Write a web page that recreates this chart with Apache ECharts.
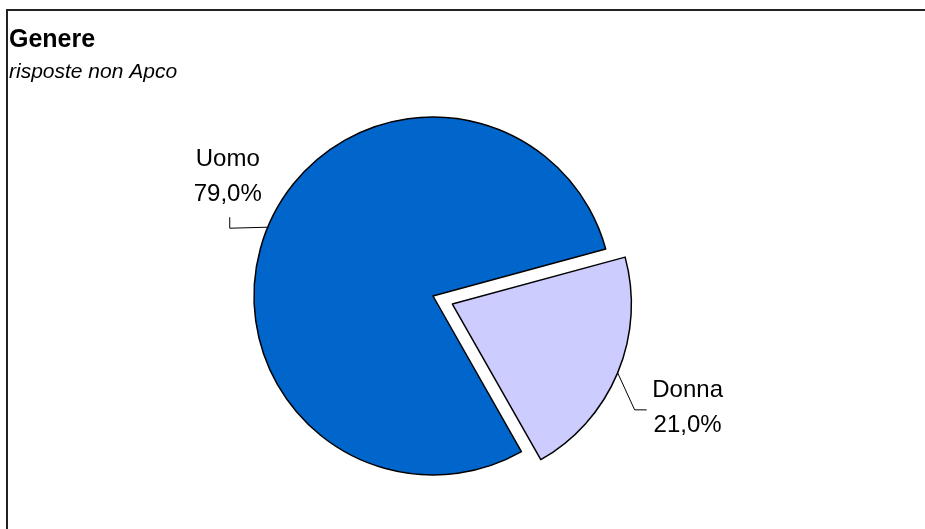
<!DOCTYPE html>
<html>
<head>
<meta charset="utf-8">
<script src="https://cdn.jsdelivr.net/npm/echarts@6/dist/echarts.min.js"></script>
<style>
html,body{margin:0;padding:0;background:#fff;}
#chart{width:925px;height:529px;}
</style>
</head>
<body>
<div id="chart"></div>
<script>
const categories = ['Uomo', 'Donna'];
const values = [79.0, 21.0];
const colors = ['#0066CC', '#CCCCFF'];
const exploded = [false, true];
const titleText = 'Genere';
const subtitleText = 'risposte non Apco';

const chart = echarts.init(document.getElementById('chart'), null, {renderer: 'canvas'});
const fmt = v => v.toFixed(1).replace('.', ',') + '%';

const CX = 433, CY = 296, R = 179, START = 299.6, EXPLODE = 21;
const total = values.reduce((a, b) => a + b, 0);

function midAngle(idx) {
  let acc = 0;
  for (let i = 0; i < idx; i++) acc += values[i];
  const a0 = START - acc / total * 360;
  const a1 = a0 - values[idx] / total * 360;
  return (a0 + a1) / 2 * Math.PI / 180;
}

// label offsets relative to the leader line anchor on the slice edge
const labelGeom = {
  'Uomo':  {line: [[-38, 1], [-38, -10]], center: [-40, -50]},
  'Donna': {line: [[17, 37], [29, 37]], center: [70, 35]}
};

function makeSeries(showIdx, center) {
  return {
    type: 'pie',
    center: center,
    radius: R,
    startAngle: START,
    clockwise: true,
    silent: true,
    emphasis: {disabled: true},
    data: categories.map((c, i) => {
      const vis = showIdx.includes(i);
      return {
        name: c,
        value: values[i],
        itemStyle: vis ? {color: colors[i], borderColor: '#000', borderWidth: 1.5}
                       : {color: 'rgba(0,0,0,0)', borderWidth: 0},
        label: {show: vis},
        labelLine: {show: vis}
      };
    }),
    label: {
      position: 'outside',
      formatter: p => p.name + '\n' + fmt(p.value),
      fontFamily: 'Liberation Sans',
      fontSize: 24,
      lineHeight: 35,
      color: '#000',
      align: 'center'
    },
    labelLine: {length: 10, length2: 10, lineStyle: {color: '#000', width: 1}},
    labelLayout: p => {
      const g = labelGeom[categories[p.dataIndex]];
      const pts = p.labelLinePoints;
      if (!g || !pts) return {};
      const a = pts[0];
      return {
        x: a[0] + g.center[0],
        y: a[1] + g.center[1],
        align: 'center',
        verticalAlign: 'middle',
        labelLinePoints: [a, [a[0] + g.line[0][0], a[1] + g.line[0][1]], [a[0] + g.line[1][0], a[1] + g.line[1][1]]]
      };
    }
  };
}

const normalIdx = categories.map((c, i) => i).filter(i => !exploded[i]);
const series = [makeSeries(normalIdx, [CX, CY])];
categories.forEach((c, i) => {
  if (exploded[i]) {
    const m = midAngle(i);
    series.push(makeSeries([i], [CX + EXPLODE * Math.cos(m), CY - EXPLODE * Math.sin(m)]));
  }
});

chart.setOption({
  animation: false,
  backgroundColor: '#fff',
  graphic: [{
    type: 'polyline',
    shape: {points: [[7, 600], [7, 10], [930, 10]]},
    style: {stroke: '#222', lineWidth: 2, fill: null}
  }],
  title: {
    text: titleText,
    subtext: subtitleText,
    left: 4,
    top: 23,
    itemGap: 9,
    textStyle: {fontFamily: 'Liberation Sans', fontWeight: 'bold', fontSize: 25, color: '#000'},
    subtextStyle: {fontFamily: 'Liberation Sans', fontStyle: 'italic', fontSize: 21, color: '#000'}
  },
  series: series
});
</script>
</body>
</html>
